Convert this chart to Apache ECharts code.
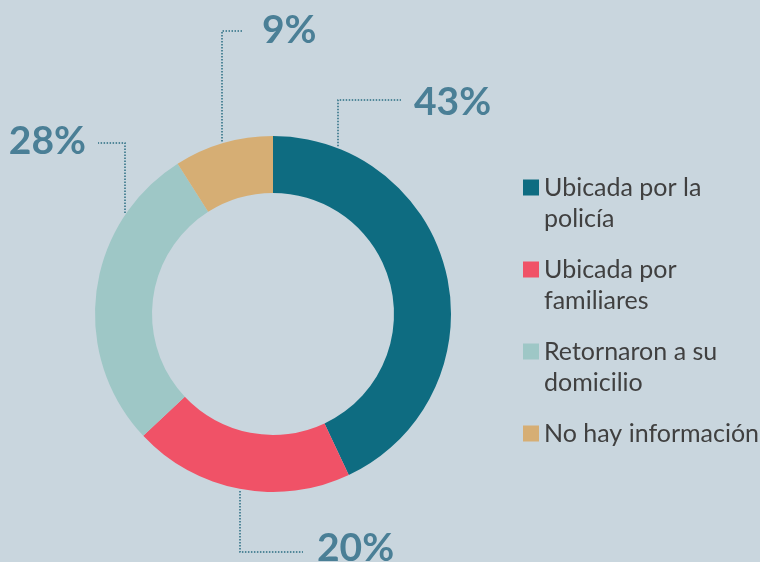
<!DOCTYPE html>
<html>
<head>
<meta charset="utf-8">
<script src="https://cdn.jsdelivr.net/npm/echarts@6/dist/echarts.min.js"></script>
<style>
  html, body { margin: 0; padding: 0; background: #c9d6de; }
  #chart { width: 760px; height: 562px; }
</style>
</head>
<body>
<div id="chart"></div>
<script>
// data
const categories = [
  'Ubicada por la policía',
  'Ubicada por familiares',
  'Retornaron a su domicilio',
  'No hay información'
];
const shares = [43, 20, 28, 9];
const legendLines = [
  ['Ubicada por la', 'policía'],
  ['Ubicada por', 'familiares'],
  ['Retornaron a su', 'domicilio'],
  ['No hay información']
];

const colors = ['#0e6c81', '#f05267', '#9ec7c6', '#d6ae74'];

const center = [273, 314];
const outerR = 178;
const innerR = 121;

// where each percentage sits, and where its dotted leader bends
const labelPlacement = [
  { x: 414, y: 102, align: 'left', elbowX: 338, elbowY: 100, endX: 401 },
  { x: 317, y: 548, align: 'left', elbowX: 240, elbowY: 552, endX: 303 },
  { x: 86, y: 141, align: 'right', elbowX: 125, elbowY: 143, endX: 98 },
  { x: 262, y: 30, align: 'left', elbowX: 222, elbowY: 31, endX: 243 }
];

const chart = echarts.init(document.getElementById('chart'));

chart.setOption({
  animation: false,
  backgroundColor: '#c9d6de',
  color: colors,
  legend: {
    orient: 'vertical',
    left: 523,
    top: 141,
    padding: 0,
    icon: 'rect',
    itemWidth: 16,
    itemHeight: 16,
    itemGap: -11,
    selectedMode: false,
    data: categories,
    formatter: function (name) {
      const lines = legendLines[categories.indexOf(name)];
      // blank first line keeps the square beside the first text line
      return '\n' + lines.join('\n') + (lines.length === 1 ? '\n' : '');
    },
    textStyle: {
      fontFamily: 'Lato',
      fontSize: 25,
      lineHeight: 31,
      color: '#404040'
    }
  },
  series: [
    {
      type: 'pie',
      center: center,
      radius: [innerR, outerR],
      startAngle: 90,
      clockwise: true,
      avoidLabelOverlap: false,
      emphasis: { disabled: true },
      itemStyle: { borderWidth: 0 },
      data: categories.map((name, i) => ({ name: name, value: shares[i] })),
      label: {
        show: true,
        position: 'outside',
        formatter: '{c}%',
        fontFamily: 'Lato',
        fontWeight: 'bold',
        fontSize: 39,
        color: '#4a7f96'
      },
      labelLine: {
        show: true,
        smooth: false,
        lineStyle: {
          color: '#2a6e83',
          width: 1.5,
          type: [1.5, 1.5]
        }
      },
      labelLayout: function (params) {
        const p = labelPlacement[params.dataIndex];
        const dx = p.elbowX - center[0];
        const dy = Math.sqrt(outerR * outerR - dx * dx) + 2;
        const anchorY = p.elbowY < center[1] ? center[1] - dy : center[1] + dy;
        return {
          x: p.x,
          y: p.y,
          align: p.align,
          verticalAlign: 'middle',
          labelLinePoints: [
            [p.elbowX, anchorY],
            [p.elbowX, p.elbowY],
            [p.endX, p.elbowY]
          ]
        };
      }
    }
  ]
});
</script>
</body>
</html>
